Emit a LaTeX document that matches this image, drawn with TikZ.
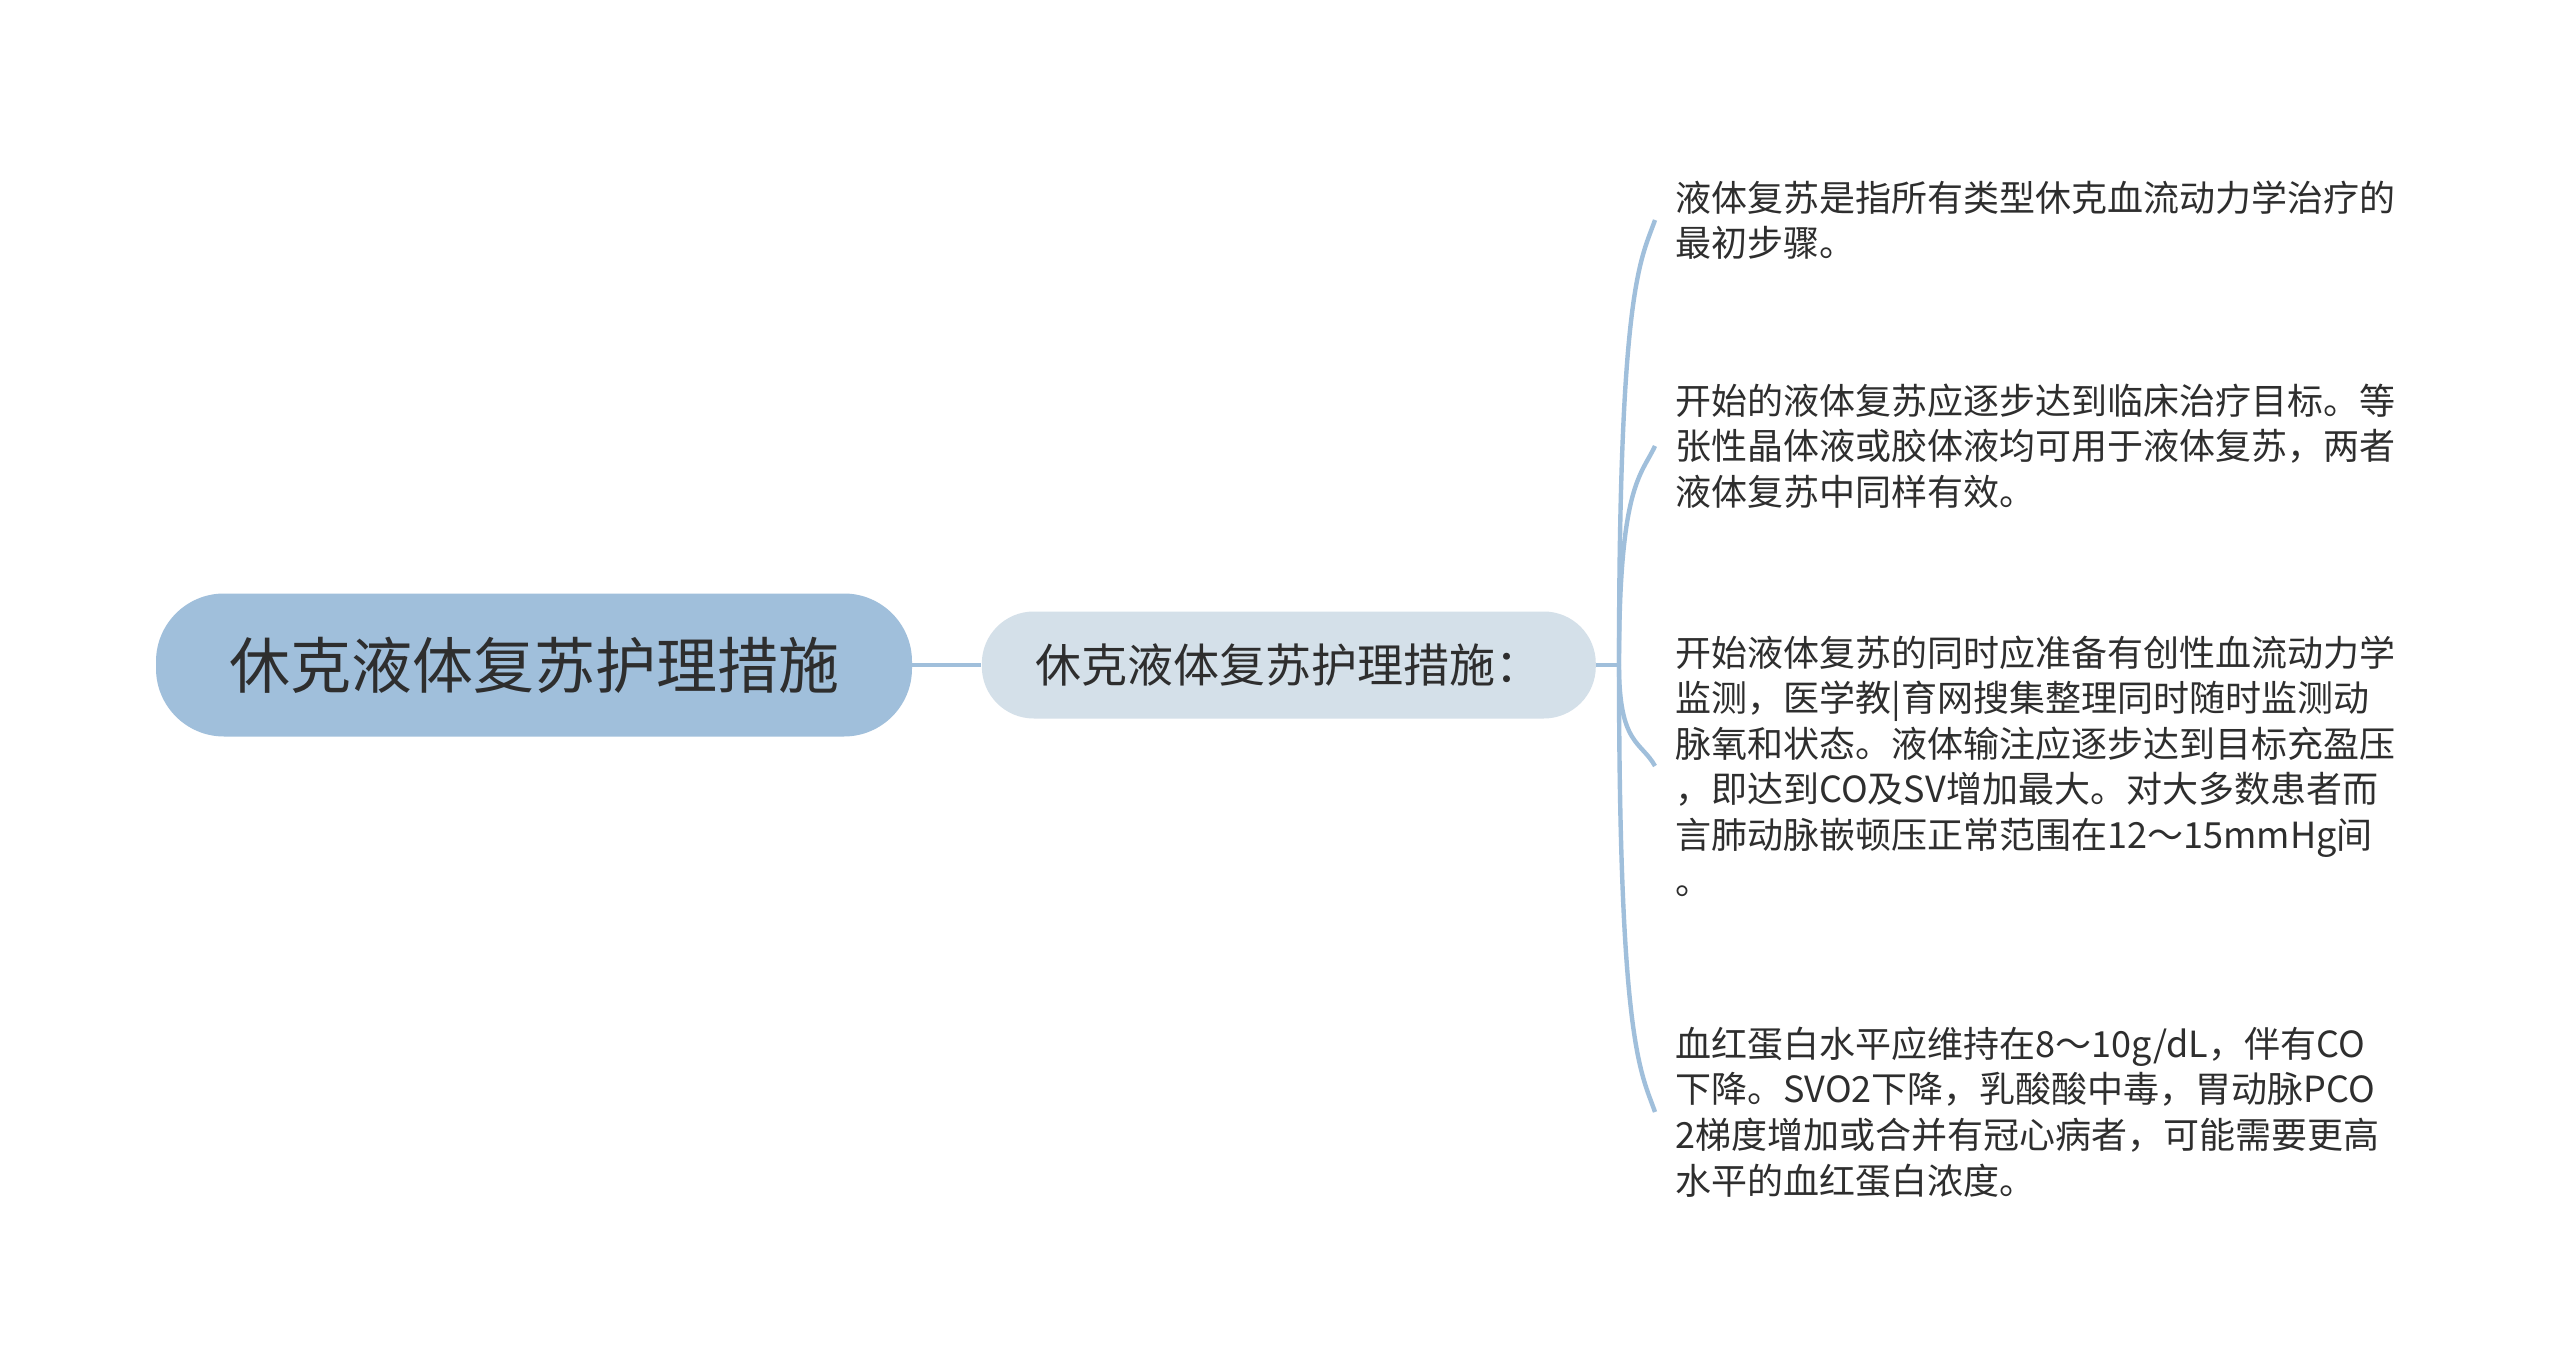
\documentclass[tikz,border=0pt]{standalone}
\usepackage{fontspec}
\setmainfont{Noto Sans CJK SC}
\usetikzlibrary{positioning}
\definecolor{rootblue}{RGB}{160,191,219}
\definecolor{subblue}{RGB}{212,224,233}
\definecolor{inkgray}{RGB}{46,46,46}
\tikzset{
  rootnode/.style={fill=rootblue, rounded corners=34pt, minimum width=378pt, minimum height=71.5pt, text=inkgray, font=\fontsize{30.5pt}{36pt}\selectfont},
  subnode/.style={fill=subblue, rounded corners=26pt, minimum width=307pt, minimum height=53.5pt, text=inkgray, font=\fontsize{23pt}{28pt}\selectfont},
  leafnode/.style={anchor=west, align=left, inner xsep=10pt, inner ysep=0pt, text=inkgray, font=\fontsize{18pt}{22.8pt}\selectfont},
  link/.style={draw=rootblue, line width=2.2pt}
}
\begin{document}
\begin{tikzpicture}[x=0.5pt, y=-0.5pt]
    \fill[white] (0,0) rectangle (2560,1369);
    \useasboundingbox (0,0) rectangle (2560,1369);

    \node[rootnode] (root) at (534,665) {休克液体复苏护理措施};
    \node[subnode, right=34.5pt of root] (sub) {休克液体复苏护理措施：};
    \coordinate (hub) at (1619,665);

    \node[leafnode] (leafA) at (1655,220) {液体复苏是指所有类型休克血流动力学治疗的\\最初步骤。};
    \node[leafnode] (leafB) at (1655,446) {开始的液体复苏应逐步达到临床治疗目标。等\\张性晶体液或胶体液均可用于液体复苏，两者\\液体复苏中同样有效。};
    \node[leafnode] (leafC) at (1655,766) {开始液体复苏的同时应准备有创性血流动力学\\监测，医学教|育网搜集整理同时随时监测动\\脉氧和状态。液体输注应逐步达到目标充盈压\\，即达到CO及SV增加最大。对大多数患者而\\言肺动脉嵌顿压正常范围在12～15mmHg间\\。};
    \node[leafnode] (leafD) at (1655,1112) {血红蛋白水平应维持在8～10g/dL，伴有CO\\下降。SVO2下降，乳酸酸中毒，胃动脉PCO\\2梯度增加或合并有冠心病者，可能需要更高\\水平的血红蛋白浓度。};

    \draw[link] (root) -- (sub);
    \draw[link] (sub.east) -- (hub);
    \draw[link] (hub) .. controls +(0,-380) and +(-14,40) .. (leafA.west);
    \draw[link] (hub) .. controls +(0,-180) and +(-14,30) .. (leafB.west);
    \draw[link] (hub) .. controls +(0,80) and +(-14,-25) .. (leafC.west);
    \draw[link] (hub) .. controls +(0,380) and +(-14,-40) .. (leafD.west);
  \end{tikzpicture}
\end{document}
